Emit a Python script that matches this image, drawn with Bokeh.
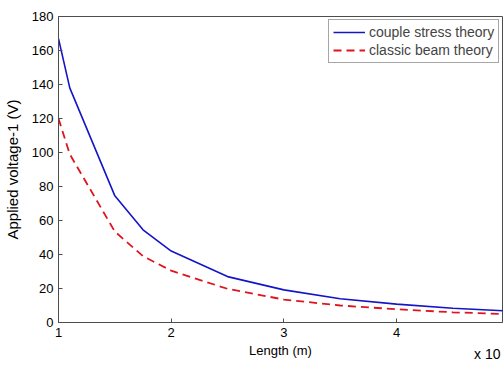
from bokeh.plotting import figure
from bokeh.models import Range1d, FixedTicker, Legend, LegendItem, Title
from bokeh.embed import file_html
from bokeh.resources import INLINE

# Data
length = [1, 1.1, 1.5, 1.75, 2, 2.5, 3, 3.5, 4, 4.5, 5]
couple_stress = [167, 138, 74.5, 54.5, 42, 27, 19.2, 14, 10.8, 8.4, 6.7]
classic_beam = [120, 99, 53.5, 39, 30.5, 19.8, 13.5, 10, 7.8, 6.0, 4.9]

x_ticks = [1, 2, 3, 4, 5]
y_ticks = [0, 20, 40, 60, 80, 100, 120, 140, 160, 180]

FONT = "Liberation Sans"
AX = "#4d4d4d"

p = figure(width=503, height=365, output_backend="svg", toolbar_location=None,
           x_range=Range1d(1, 4.94), y_range=Range1d(0, 180),
           min_border_left=58, min_border_right=1, min_border_top=16, min_border_bottom=43)
p.outline_line_color = AX
p.outline_line_width = 1
p.xgrid.visible = False
p.ygrid.visible = False
p.background_fill_color = "white"
p.border_fill_color = "white"

for ax in (p.xaxis[0], p.yaxis[0]):
    ax.axis_line_color = AX
    ax.axis_line_width = 1
    ax.major_tick_line_color = AX
    ax.major_tick_in = 4
    ax.major_tick_out = 0
    ax.minor_tick_line_color = None
    ax.major_label_text_font = FONT
    ax.major_label_text_font_size = "13px"
    ax.major_label_text_color = "black"
    ax.axis_label_text_font = FONT
    ax.axis_label_text_font_style = "normal"
    ax.axis_label_text_color = "black"

p.xaxis.ticker = FixedTicker(ticks=x_ticks)
p.yaxis.ticker = FixedTicker(ticks=y_ticks)
p.xaxis.axis_label = "Length (m)"
p.yaxis.axis_label = "Applied voltage-1 (V)"
p.xaxis.axis_label_text_font_size = "13px"
p.yaxis.axis_label_text_font_size = "15px"
p.xaxis.major_label_standoff = 5
p.yaxis.major_label_standoff = 5
p.xaxis.axis_label_standoff = 3
p.yaxis.axis_label_standoff = 8

r1 = p.line(length, couple_stress, line_color="#1414c8", line_width=1.6)
r2 = p.line(length, classic_beam, line_color="#e0141e", line_width=1.8, line_dash="8 5")

legend = Legend(items=[LegendItem(label="couple stress theory", renderers=[r1]),
                       LegendItem(label="classic beam theory", renderers=[r2])],
                location=(270, 259))
legend.border_line_color = AX
legend.border_line_width = 1
legend.background_fill_color = "white"
legend.background_fill_alpha = 1
legend.label_text_font = FONT
legend.label_text_font_size = "14px"
legend.glyph_width = 32
legend.glyph_height = 16
legend.label_height = 16
legend.padding = 4
legend.spacing = 2
legend.margin = 0
legend.label_standoff = 4
p.add_layout(legend)

# axis multiplier text at the bottom-right corner, drawn in the bottom border
mult = Title(text="x 10", align="right", vertical_align="top", standoff=-30, offset=2,
             text_font=FONT, text_font_size="14px", text_font_style="normal",
             text_color="black")
p.add_layout(mult, "below")

open("out.html", "w").write(file_html(p, INLINE))
